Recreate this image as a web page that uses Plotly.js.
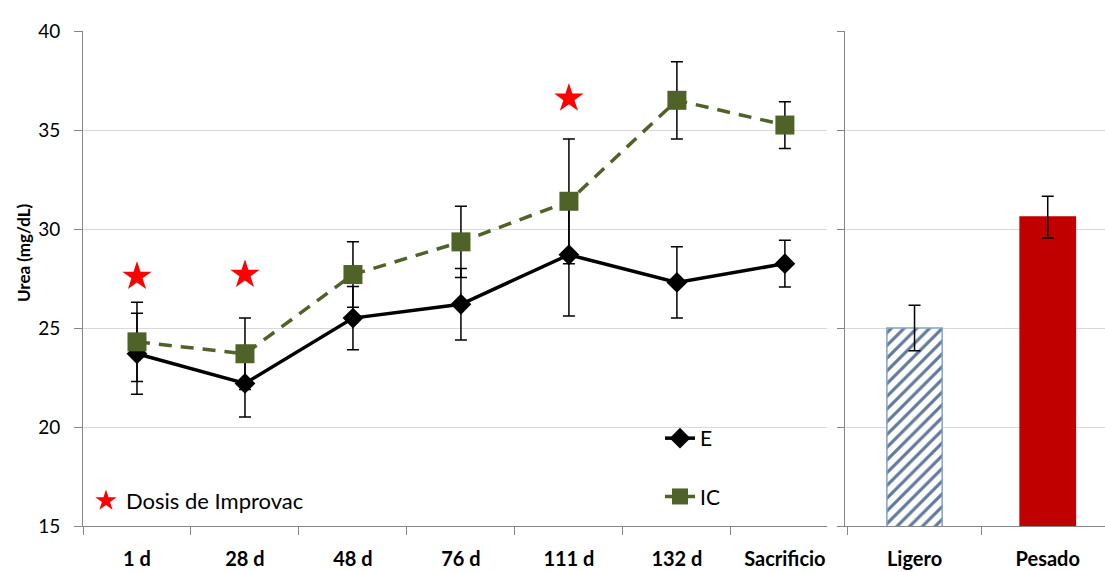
<!DOCTYPE html>
<html>
<head>
<meta charset="utf-8">
<script src="https://cdn.plot.ly/plotly-3.0.1.min.js"></script>
<style>
  html, body { margin: 0; padding: 0; background: #ffffff; }
  #chart { width: 1105px; height: 572px; }
</style>
</head>
<body>
<div id="chart"></div>
<script>
// Sampling days along the fattening period
const timepoints = ["1 d", "28 d", "48 d", "76 d", "111 d", "132 d", "Sacrificio"];

// Group E: mean urea (mg/dL) and error
const ureaE = [23.7, 22.2, 25.5, 26.2, 28.7, 27.3, 28.25];
const errE  = [2.05, 1.7, 1.6, 1.8, 3.1, 1.8, 1.18];

// Group IC: mean urea (mg/dL) and error
const ureaIC = [24.3, 23.7, 27.7, 29.35, 31.4, 36.5, 35.25];
const errIC  = [2.0, 1.8, 1.65, 1.8, 3.15, 1.95, 1.18];

// Days on which Improvac was given, and marker heights
const doseDays  = ["1 d", "28 d", "111 d"];
const doseMarkY = [27.6, 27.7, 36.6];

// Carcass weight groups at slaughter
const weightGroups = ["Ligero", "Pesado"];
const ureaWeight   = [25.0, 30.6];
const errWeight    = [1.15, 1.05];

const W = 1105;
const FONT = "Lato, 'Open Sans', 'DejaVu Sans', sans-serif";
const AXIS_GREY = "#868686";
const GRID_GREY = "#d9d9d9";

function weightBar(i, marker) {
  return {
    type: "bar", name: weightGroups[i], showlegend: false,
    x: [weightGroups[i]], y: [ureaWeight[i]], xaxis: "x2", yaxis: "y2",
    width: 0.415, marker: marker,
    error_y: { type: "data", array: [errWeight[i]], visible: true, color: "#000000", thickness: 1.5, width: 6 }
  };
}

const traces = [
  {
    type: "scatter", mode: "lines+markers", name: "E",
    x: timepoints, y: ureaE, xaxis: "x", yaxis: "y",
    line: { color: "#000000", width: 3.5 },
    marker: { symbol: "diamond", size: 16, color: "#000000" },
    error_y: { type: "data", array: errE, visible: true, color: "#000000", thickness: 1.5, width: 6 },
    legendgroup: "E", legend: "legend"
  },
  {
    type: "scatter", mode: "lines+markers", name: "IC",
    x: timepoints, y: ureaIC, xaxis: "x", yaxis: "y",
    line: { color: "#4f6228", width: 3.5, dash: "13px,9px" },
    marker: { symbol: "square", size: 19, color: "#4f6228" },
    error_y: { type: "data", array: errIC, visible: true, color: "#000000", thickness: 1.5, width: 6 },
    legendgroup: "IC", legend: "legend"
  },
  {
    type: "scatter", mode: "markers", name: "Dosis de Improvac",
    x: doseDays, y: doseMarkY, xaxis: "x", yaxis: "y",
    marker: { symbol: "star", size: 22, color: "#ff0000" },
    legend: "legend2"
  },
  weightBar(0, {
    color: "#ffffff",
    line: { color: "#7ea3cc", width: 1.5 },
    pattern: { shape: "/", fgcolor: "#62799a", bgcolor: "#ffffff", size: 9, solidity: 0.35, fillmode: "replace" }
  }),
  weightBar(1, {
    color: "#c00000",
    line: { color: "#c00000", width: 1.5 }
  })
];

const layout = {
  width: W, height: 572,
  margin: { l: 0, r: 0, t: 31, b: 46, pad: 0 },
  paper_bgcolor: "#ffffff", plot_bgcolor: "#ffffff",
  font: { family: FONT, color: "#000000", size: 18 },
  showlegend: true,
  barmode: "overlay",
  xaxis: {
    domain: [83 / W, 827 / W], anchor: "y",
    type: "category", categoryarray: timepoints, range: [-0.5, 6.39],
    showline: true, linecolor: AXIS_GREY, linewidth: 1,
    ticks: "outside", tickson: "boundaries", ticklen: 8, tickcolor: AXIS_GREY,
    tickfont: { family: FONT, size: 20, weight: "bold", color: "#000000" },
    ticklabelstandoff: 15,
    showgrid: false, zeroline: false, fixedrange: true
  },
  yaxis: {
    domain: [0, 1], anchor: "x",
    range: [15, 40], dtick: 5, tick0: 15,
    showline: true, linecolor: AXIS_GREY, linewidth: 1,
    ticks: "outside", ticklen: 8, tickcolor: AXIS_GREY,
    tickfont: { family: FONT, size: 19, color: "#000000" },
    ticklabelstandoff: 10,
    showgrid: true, gridcolor: GRID_GREY, gridwidth: 1,
    zeroline: false, fixedrange: true
  },
  xaxis2: {
    domain: [845 / W, 1], anchor: "y2",
    type: "category", categoryarray: weightGroups, range: [-0.522, 1.43],
    showline: true, linecolor: AXIS_GREY, linewidth: 1,
    ticks: "outside", tickson: "boundaries", ticklen: 8, tickcolor: AXIS_GREY,
    tickfont: { family: FONT, size: 20, weight: "bold", color: "#000000" },
    ticklabelstandoff: 15,
    showgrid: false, zeroline: false, fixedrange: true
  },
  yaxis2: {
    domain: [0, 1], anchor: "x2",
    range: [15, 40], dtick: 5, tick0: 15,
    showline: true, linecolor: AXIS_GREY, linewidth: 1,
    ticks: "outside", ticklen: 7, tickcolor: AXIS_GREY,
    showticklabels: false,
    showgrid: true, gridcolor: GRID_GREY, gridwidth: 1,
    zeroline: false, fixedrange: true
  },
  legend: {
    x: 660 / W, y: (526 - 418) / 495, xanchor: "left", yanchor: "top",
    bgcolor: "rgba(0,0,0,0)", borderwidth: 0,
    font: { family: FONT, size: 21, color: "#000000" },
    traceorder: "grouped", tracegroupgap: 28
  },
  legend2: {
    x: 86 / W, y: (526 - 480) / 495, xanchor: "left", yanchor: "top",
    bgcolor: "rgba(0,0,0,0)", borderwidth: 0,
    font: { family: FONT, size: 22, color: "#000000" }
  },
  annotations: [
    {
      text: "Urea (mg/dL)", textangle: -90, showarrow: false,
      xref: "paper", yref: "paper",
      x: 23 / W, y: (526 - 253) / 495, xanchor: "center", yanchor: "middle",
      font: { family: FONT, size: 17, weight: "bold", color: "#000000" }
    }
  ]
};

Plotly.newPlot("chart", traces, layout, { displayModeBar: false, staticPlot: true });
</script>
</body>
</html>
